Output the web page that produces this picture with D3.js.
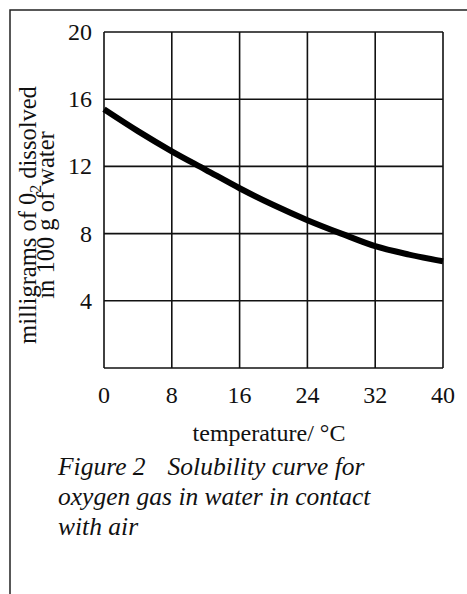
<!DOCTYPE html>
<html>
<head>
<meta charset="utf-8">
<script src="https://cdn.jsdelivr.net/npm/d3@7/dist/d3.min.js"></script>
<style>
  html, body { margin: 0; padding: 0; background: #fff; }
  svg { display: block; }
  text { font-family: "Liberation Serif", "DejaVu Serif", serif; fill: #111; }
</style>
</head>
<body>
<svg id="chart" width="467" height="594"></svg>
<script>
// Data
const temperatures = [0, 4, 8, 12, 16, 20, 24, 28, 32, 36, 40];
const oxygenMg     = [15.4, 14.1, 12.9, 11.8, 10.7, 9.7, 8.8, 8.0, 7.25, 6.75, 6.35];
const xTicks = [0, 8, 16, 24, 32, 40];
const yTicks = [4, 8, 12, 16, 20];
const yGrid  = [0, 4, 8, 12, 16, 20];
const xLabel = "temperature/ °C";
const yLabelLine1 = ["milligrams of 0", "2", " dissolved"];
const yLabelLine2 = "in 100 g of water";
const captionFirst = ["Figure 2", "Solubility curve for"];
const captionRest = ["oxygen gas in water in contact", "with air"];

const svg = d3.select("#chart");
const x = d3.scaleLinear().domain([0, 40]).range([104, 443]);
const y = d3.scaleLinear().domain([0, 20]).range([368, 32]);

// page border (left and top)
svg.append("path")
  .attr("d", "M10,594 L10,10 L467,10")
  .attr("fill", "none").attr("stroke", "#222").attr("stroke-width", 1.5);

// grid
const g = svg.append("g");
g.selectAll("line.v").data(xTicks).join("line")
  .attr("x1", d => x(d)).attr("x2", d => x(d))
  .attr("y1", y(0)).attr("y2", y(20))
  .attr("stroke", "#111").attr("stroke-width", 1.6);
g.selectAll("line.h").data(yGrid).join("line")
  .attr("y1", d => y(d)).attr("y2", d => y(d))
  .attr("x1", x(0)).attr("x2", x(40))
  .attr("stroke", "#111").attr("stroke-width", 1.6);

// curve
const pts = temperatures.map((t, i) => [t, oxygenMg[i]]);
svg.append("path")
  .datum(pts)
  .attr("d", d3.line().x(d => x(d[0])).y(d => y(d[1])).curve(d3.curveMonotoneX))
  .attr("fill", "none").attr("stroke", "#000").attr("stroke-width", 6)
  .attr("stroke-linecap", "butt");

// y tick labels
svg.selectAll("text.yt").data(yTicks).join("text")
  .attr("class", "yt")
  .attr("x", 92).attr("y", d => y(d)).attr("dy", "0.33em")
  .attr("text-anchor", "end").attr("font-size", 24)
  .text(d => d);

// x tick labels
svg.selectAll("text.xt").data(xTicks).join("text")
  .attr("class", "xt")
  .attr("x", d => x(d)).attr("y", 403)
  .attr("text-anchor", "middle").attr("font-size", 24)
  .text(d => d);

// x axis title
svg.append("text")
  .attr("x", 269).attr("y", 441)
  .attr("text-anchor", "middle").attr("font-size", 24)
  .text(xLabel);

// y axis title (two lines, rotated)
const yt = svg.append("g").attr("transform", "translate(36,215) rotate(-90)");
const l1 = yt.append("text").attr("text-anchor", "middle").attr("font-size", 24.5).attr("y", 0);
l1.append("tspan").text(yLabelLine1[0]);
l1.append("tspan").attr("font-size", 16).attr("dy", 5).text(yLabelLine1[1]);
l1.append("tspan").attr("dy", -5).text(yLabelLine1[2]);
yt.append("text").attr("text-anchor", "middle").attr("font-size", 24.5).attr("y", 18)
  .text(yLabelLine2);

// caption
const cap1 = svg.append("text")
  .attr("x", 58).attr("y", 475)
  .attr("font-size", 25.5).attr("font-style", "italic");
cap1.append("tspan").text(captionFirst[0]);
cap1.append("tspan").attr("dx", 22).text(captionFirst[1]);
svg.selectAll("text.cap").data(captionRest).join("text")
  .attr("class", "cap")
  .attr("x", 58).attr("y", (d, i) => 505 + i * 30)
  .attr("font-size", 25.5).attr("font-style", "italic")
  .text(d => d);
</script>
</body>
</html>
